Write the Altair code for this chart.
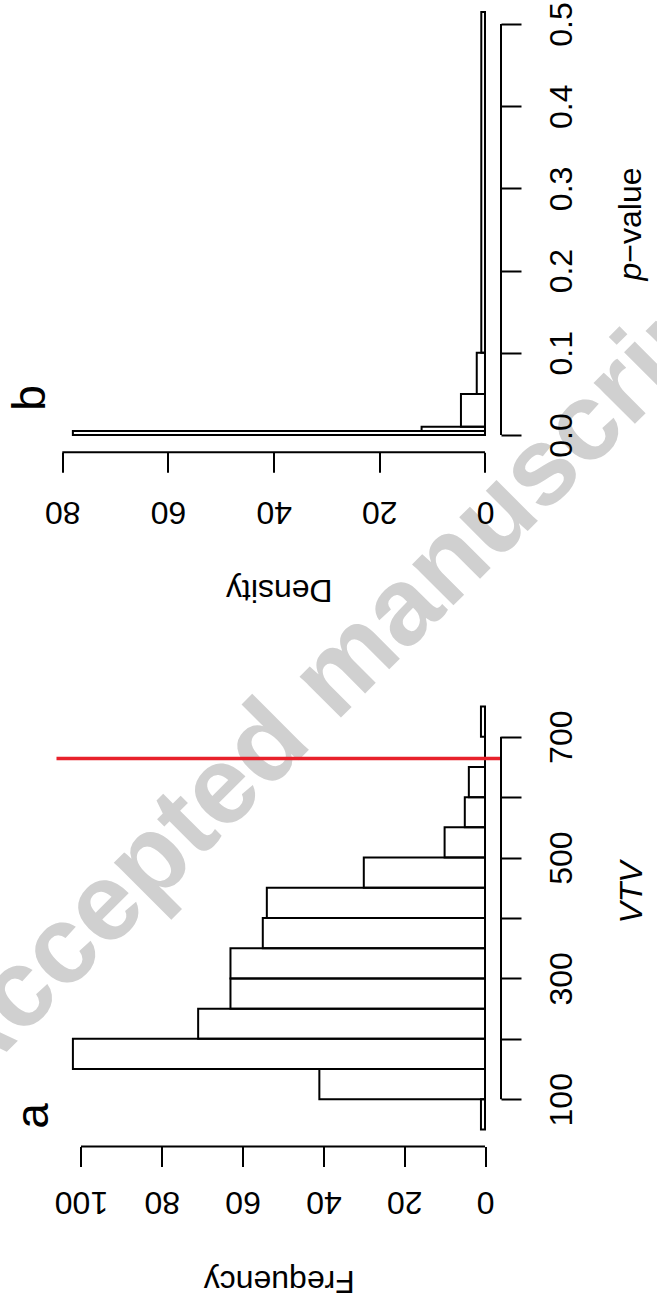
import altair as alt
import pandas as pd

FONT = "Liberation Sans"

# ---------------- data ----------------
# panel a: histogram of VTV (bin edges and counts)
vtv_lo = [50, 100, 150, 200, 250, 300, 350, 400, 450, 500, 550, 600, 650, 700]
vtv_hi = [100, 150, 200, 250, 300, 350, 400, 450, 500, 550, 600, 650, 700, 750]
vtv_count = [1, 41, 102, 71, 63, 63, 55, 54, 30, 10, 5, 4, 0, 1]
vtv_observed = [664]

# panel b: density histogram of p-values (unequal bins)
p_lo = [0.0, 0.005, 0.01, 0.05, 0.1]
p_hi = [0.005, 0.01, 0.05, 0.1, 0.5146]
p_density = [78.0, 12.0, 4.55, 1.56, 0.70]

freq_ticks = [0, 20, 40, 60, 80, 100]
vtv_ticks = [100, 200, 300, 400, 500, 600, 700]
dens_ticks = [0, 20, 40, 60, 80]
p_ticks = [0.0, 0.1, 0.2, 0.3, 0.4, 0.5]

# ---------------- layout (pixels / scale extents) ----------------
W = 444.5
H = 1146.4
FREQ_DOMAIN = [-3.96, 106.06]
VTV_DOMAIN = [22, 778]
VTV_RANGE = [1146.4, 689.6]
DENS_DOMAIN = [-3.03, 81.1]
P_DOMAIN = [-0.02105, 0.5292]
P_RANGE = [452.3, 0]
LW = 2


def xs_a():
    return alt.Scale(domain=FREQ_DOMAIN, reverse=True, nice=False, zero=False)


def ys_a():
    return alt.Scale(domain=VTV_DOMAIN, range=VTV_RANGE, nice=False, zero=False)


def xs_b():
    return alt.Scale(domain=DENS_DOMAIN, reverse=True, nice=False, zero=False)


def ys_b():
    return alt.Scale(domain=P_DOMAIN, range=P_RANGE, nice=False, zero=False)


common_axis = dict(
    domain=False, grid=False, tickSize=20, tickWidth=LW, tickColor="black",
    labelFont=FONT, labelFontSize=32, labelColor="black", labelFlush=False,
    labelOverlap=False, labelBound=False, zindex=1,
    titleFont=FONT, titleFontSize=32, titleColor="black", titleFontWeight="normal",
)


def xaxis(title, pad, title_y, offset, values):
    return alt.Axis(orient="bottom", values=values, offset=offset,
                    labelAngle=180, labelAlign="center", labelBaseline="alphabetic",
                    labelPadding=pad, format="d",
                    title=title, titleAngle=180, titleAlign="center",
                    titleBaseline="alphabetic", titleY=title_y, **common_axis)


def yaxis(values, fmt, label_expr, title, style, title_y=None):
    kw = dict(orient="right", values=values, format=fmt,
              labelAngle=270, labelAlign="center", labelBaseline="alphabetic",
              labelPadding=50.7, **common_axis)
    if label_expr:
        kw["labelExpr"] = label_expr
    if title:
        kw.update(title=title, titleAngle=270, titleAlign="center",
                  titleBaseline="alphabetic", titleX=140, titleFontStyle=style)
        if title_y is not None:
            kw["titleY"] = title_y
    else:
        kw["title"] = ""
    return alt.Axis(**kw)


# ---------------- panel a ----------------
dfa = pd.DataFrame({"lo": vtv_lo, "hi": vtv_hi, "count": vtv_count})
bars_a = alt.Chart(dfa).mark_rect(fillOpacity=0, stroke="black", strokeWidth=LW).encode(
    x=alt.X("count:Q", scale=xs_a(),
            axis=xaxis("Frequency", 25.3, 124, 0, freq_ticks)),
    x2=alt.datum(0),
    y=alt.Y("lo:Q", scale=ys_a(),
            axis=yaxis(vtv_ticks, "d", "datum.value % 200 == 100 ? datum.label : ''",
                       "VTV", "italic", 892)),
    y2="hi:Q",
)
red_a = alt.Chart(pd.DataFrame({"v": vtv_observed})).mark_rule(
    color="#e8212b", strokeWidth=3.3).encode(
    y=alt.Y("v:Q", scale=ys_a(), axis=None),
    x=alt.XDatum(FREQ_DOMAIN[0], scale=xs_a(), axis=None),
    x2=alt.datum(FREQ_DOMAIN[1]),
)
vline_a = alt.Chart(pd.DataFrame({"a": [vtv_ticks[0]], "b": [vtv_ticks[-1]]})).mark_rule(
    color="black", strokeWidth=LW).encode(
    y=alt.Y("a:Q", scale=ys_a(), axis=None), y2="b:Q",
    x=alt.XDatum(FREQ_DOMAIN[0], scale=xs_a(), axis=None))
hline_a = alt.Chart(pd.DataFrame({"a": [freq_ticks[0]], "b": [freq_ticks[-1]]})).mark_rule(
    color="black", strokeWidth=LW).encode(
    x=alt.X("a:Q", scale=xs_a(), axis=None), x2="b:Q",
    y=alt.YDatum(VTV_DOMAIN[0], scale=ys_a(), axis=None))

# ---------------- panel b ----------------
dfb = pd.DataFrame({"lo": p_lo, "hi": p_hi, "dens": p_density})
bars_b = alt.Chart(dfb).mark_rect(fillOpacity=0, stroke="black", strokeWidth=LW).encode(
    x=alt.X("dens:Q", scale=xs_b(),
            axis=xaxis("Density", 28.7, 127.4, P_RANGE[0] - H, dens_ticks)),
    x2=alt.datum(0),
    y=alt.Y("lo:Q", scale=ys_b(), axis=yaxis(p_ticks, ".1f", None, None, None)),
    y2="hi:Q",
)
vline_b = alt.Chart(pd.DataFrame({"a": [p_ticks[0]], "b": [p_ticks[-1]]})).mark_rule(
    color="black", strokeWidth=LW).encode(
    y=alt.Y("a:Q", scale=ys_b(), axis=None), y2="b:Q",
    x=alt.XDatum(DENS_DOMAIN[0], scale=xs_b(), axis=None))
hline_b = alt.Chart(pd.DataFrame({"a": [dens_ticks[0]], "b": [dens_ticks[-1]]})).mark_rule(
    color="black", strokeWidth=LW).encode(
    x=alt.X("a:Q", scale=xs_b(), axis=None), x2="b:Q",
    y=alt.YDatum(P_DOMAIN[0], scale=ys_b(), axis=None))

# ---------------- texts ----------------
watermark = alt.Chart(pd.DataFrame({"t": ["Accepted manuscript"]})).mark_text(
    font=FONT, fontWeight="bold", fontSize=110, color="#d0d0d0",
    angle=315, align="center", baseline="middle").encode(
    x=alt.value(279.5), y=alt.value(676), text="t:N")


def label(txt, x, y, size, style="normal", align="center"):
    return alt.Chart(pd.DataFrame({"t": [txt]})).mark_text(
        font=FONT, fontSize=size, fontStyle=style, color="black",
        angle=270, align=align, baseline="alphabetic").encode(
        x=alt.value(x), y=alt.value(y), text="t:N")


lab_a = label("a", -8.5, 1116, 46)
lab_b = label("b", -11.5, 398, 46)
p_it = label("p", 584.5, 280.5, 32, style="italic", align="left")
p_rest = label("\u2212value", 584.5, 262.7, 32, align="left")

chart = alt.layer(
    watermark, bars_b, vline_b, hline_b, bars_a, red_a, vline_a, hline_a,
    lab_a, lab_b, p_it, p_rest,
).resolve_scale(
    x="independent", y="independent"
).resolve_axis(
    x="independent", y="independent"
).properties(
    width=W, height=H,
    padding={"left": 56.5, "top": 0, "right": 156, "bottom": 154.6},
    autosize=alt.AutoSizeParams(type="none"),
    background="white",
).configure_view(stroke=None)

chart.save("out.html", embed_options={"renderer": "svg", "actions": False})
